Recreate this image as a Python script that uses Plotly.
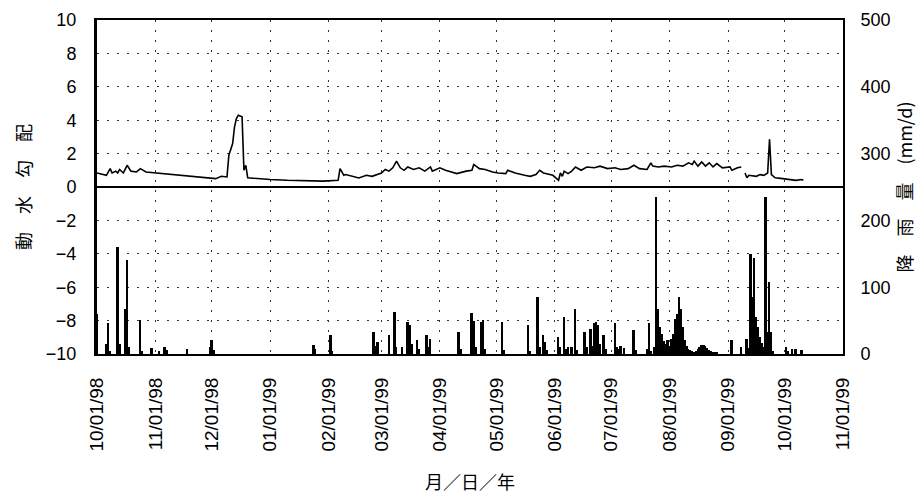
import plotly.graph_objects as go

# Hydraulic gradient (left axis)
grad_dates = [
    "1998-10-01", "1998-10-04", "1998-10-06", "1998-10-08", "1998-10-09", "1998-10-11",
    "1998-10-12", "1998-10-13", "1998-10-15", "1998-10-17", "1998-10-19", "1998-10-22",
    "1998-10-24", "1998-10-27", "1998-11-01", "1998-11-10", "1998-11-19", "1998-11-28",
    "1998-12-03", "1998-12-06", "1998-12-09", "1998-12-10", "1998-12-11", "1998-12-12",
    "1998-12-13", "1998-12-14", "1998-12-15", "1998-12-16", "1998-12-17", "1998-12-18",
    "1998-12-19", "1998-12-20", "1998-12-25", "1999-01-01", "1999-01-10", "1999-01-20",
    "1999-01-29", "1999-02-06", "1999-02-07", "1999-02-08", "1999-02-09", "1999-02-10",
    "1999-02-14", "1999-02-17", "1999-02-21", "1999-02-24", "1999-03-01", "1999-03-03",
    "1999-03-05", "1999-03-07", "1999-03-09", "1999-03-11", "1999-03-13", "1999-03-15",
    "1999-03-18", "1999-03-21", "1999-03-24", "1999-03-27", "1999-03-28", "1999-04-01",
    "1999-04-04", "1999-04-10", "1999-04-15", "1999-04-18", "1999-04-19", "1999-04-22",
    "1999-04-25", "1999-04-29", "1999-05-02", "1999-05-06", "1999-05-07", "1999-05-11",
    "1999-05-16", "1999-05-19", "1999-05-22", "1999-05-24", "1999-05-26", "1999-05-31",
    "1999-06-02", "1999-06-03", "1999-06-04", "1999-06-05", "1999-06-06", "1999-06-08",
    "1999-06-10", "1999-06-12", "1999-06-15", "1999-06-18", "1999-06-22", "1999-06-25",
    "1999-06-29", "1999-07-03", "1999-07-06", "1999-07-10", "1999-07-13", "1999-07-16",
    "1999-07-20", "1999-07-22", "1999-07-23", "1999-07-26", "1999-07-29", "1999-08-02",
    "1999-08-05", "1999-08-08", "1999-08-11", "1999-08-13", "1999-08-14", "1999-08-16",
    "1999-08-18", "1999-08-20", "1999-08-22", "1999-08-24", "1999-08-26", "1999-08-29",
    "1999-09-02", "1999-09-03", "1999-09-06", "1999-09-08", "1999-09-09", "1999-09-10",
    "1999-09-11", "1999-09-12", "1999-09-16", "1999-09-18", "1999-09-20", "1999-09-22",
    "1999-09-23", "1999-09-24", "1999-09-26", "1999-09-30", "1999-10-03", "1999-10-07",
    "1999-10-10", "1999-10-11",
]
grad_values = [
    0.84, 0.75, 0.70, 1.10, 0.84, 0.95,
    0.84, 1.05, 0.84, 1.30, 0.95, 0.90,
    1.10, 0.90, 0.84, 0.74, 0.64, 0.54,
    0.50, 0.64, 0.60, 1.90, 2.30, 2.60,
    3.60, 4.10, 4.30, 4.25, 4.20, 1.00,
    1.30, 0.55, 0.50, 0.45, 0.40, 0.38,
    0.35, 0.40, 1.10, 0.90, 0.70, 0.75,
    0.64, 0.54, 0.70, 0.64, 0.84, 1.05,
    0.95, 1.15, 1.55, 1.15, 1.00, 1.20,
    1.05, 1.15, 0.95, 1.20, 0.95, 1.15,
    1.00, 0.80, 0.95, 1.00, 1.35, 1.10,
    1.05, 0.90, 0.84, 0.80, 1.00, 0.84,
    0.70, 0.64, 0.74, 1.00, 0.84, 0.70,
    0.50, 0.40, 0.84, 0.64, 0.95, 0.80,
    0.95, 1.20, 1.00, 1.20, 1.15, 1.25,
    1.10, 1.15, 1.05, 1.10, 1.30, 1.10,
    1.05, 1.45, 1.25, 1.20, 1.25, 1.20,
    1.30, 1.25, 1.45, 1.35, 1.55, 1.25,
    1.50, 1.25, 1.45, 1.20, 1.40, 1.15,
    1.20, 1.00, 1.15, 1.20, None, 0.84,
    0.55, 0.70, 0.64, 0.74, 0.70, 0.84,
    2.86, 0.74, 0.55, 0.50, 0.45, 0.40,
    0.45, 0.40,
]

# Daily rainfall (right axis, mm/d)
rain_dates = [
    "1998-10-01", "1998-10-06", "1998-10-07", "1998-10-08", "1998-10-12", "1998-10-13",
    "1998-10-16", "1998-10-17", "1998-10-18", "1998-10-24", "1998-10-25", "1998-10-30",
    "1998-11-03", "1998-11-06", "1998-11-07", "1998-11-18", "1998-11-30", "1998-12-01",
    "1998-12-02", "1999-01-24", "1999-01-25", "1999-02-02", "1999-02-03", "1999-02-25",
    "1999-02-26", "1999-02-27", "1999-03-05", "1999-03-08", "1999-03-09", "1999-03-12",
    "1999-03-15", "1999-03-16", "1999-03-17", "1999-03-20", "1999-03-21", "1999-03-25",
    "1999-03-26", "1999-03-27", "1999-04-11", "1999-04-12", "1999-04-18", "1999-04-19",
    "1999-04-20", "1999-04-23", "1999-04-24", "1999-04-25", "1999-05-04", "1999-05-05",
    "1999-05-18", "1999-05-19", "1999-05-23", "1999-05-24", "1999-05-26", "1999-05-27",
    "1999-05-28", "1999-06-03", "1999-06-04", "1999-06-06", "1999-06-07", "1999-06-08",
    "1999-06-10", "1999-06-12", "1999-06-13", "1999-06-17", "1999-06-18", "1999-06-20",
    "1999-06-21", "1999-06-22", "1999-06-23", "1999-06-24", "1999-06-25", "1999-06-27",
    "1999-06-28", "1999-07-03", "1999-07-04", "1999-07-05", "1999-07-06", "1999-07-08",
    "1999-07-13", "1999-07-14", "1999-07-20", "1999-07-21", "1999-07-22", "1999-07-24",
    "1999-07-25", "1999-07-26", "1999-07-27", "1999-07-28", "1999-07-29", "1999-07-30",
    "1999-07-31", "1999-08-01", "1999-08-02", "1999-08-03", "1999-08-04", "1999-08-05",
    "1999-08-06", "1999-08-07", "1999-08-08", "1999-08-09", "1999-08-10", "1999-08-11",
    "1999-08-12", "1999-08-13", "1999-08-14", "1999-08-15", "1999-08-16", "1999-08-17",
    "1999-08-18", "1999-08-19", "1999-08-20", "1999-08-21", "1999-08-22", "1999-08-23",
    "1999-08-24", "1999-08-25", "1999-08-26", "1999-09-03", "1999-09-08", "1999-09-11",
    "1999-09-12", "1999-09-13", "1999-09-14", "1999-09-15", "1999-09-16", "1999-09-17",
    "1999-09-18", "1999-09-19", "1999-09-20", "1999-09-21", "1999-09-22", "1999-09-23",
    "1999-09-24", "1999-09-25", "1999-10-02", "1999-10-03", "1999-10-05", "1999-10-07",
    "1999-10-10",
]
rain_mm = [
    60, 15, 46, 5, 160, 15,
    67, 141, 10, 51, 5, 9,
    4, 11, 6, 8, 10, 21,
    6, 13, 8, 28, 5, 33,
    12, 18, 28, 63, 10, 11,
    48, 43, 15, 21, 8, 28,
    10, 23, 33, 8, 61, 50,
    10, 48, 51, 8, 48, 6,
    43, 5, 86, 10, 28, 18,
    6, 26, 10, 56, 8, 11,
    11, 68, 6, 33, 10, 38,
    12, 46, 48, 43, 15, 28,
    8, 46, 10, 8, 12, 9,
    36, 6, 8, 46, 5, 10,
    235, 68, 40, 30, 20, 15,
    21, 12, 23, 30, 53, 60,
    86, 68, 41, 21, 12, 8,
    6, 4, 3, 5, 8, 11,
    13, 13, 12, 9, 6, 4,
    3, 3, 2, 21, 10, 23,
    9, 150, 86, 143, 56, 41,
    26, 16, 10, 235, 33, 108,
    33, 5, 10, 5, 8, 8,
    6,
]

fig = go.Figure()
fig.add_trace(go.Scatter(
    x=grad_dates, y=grad_values, mode="lines",
    line=dict(color="black", width=1.6), connectgaps=False,
    showlegend=False, hoverinfo="skip",
))
fig.add_trace(go.Bar(
    x=rain_dates, y=rain_mm, yaxis="y2",
    marker=dict(color="black", line=dict(width=0)),
    width=86400000, showlegend=False, hoverinfo="skip",
))

grid_kw = dict(gridcolor="#333333", griddash="2px,8px", gridwidth=1)
tick_font = dict(family="Liberation Sans, Arial, sans-serif", size=18, color="black")
xtick_font = dict(family="Liberation Sans, Arial, sans-serif", size=19, color="black")
cjk_font = dict(family="Noto Sans CJK JP, Liberation Sans, sans-serif", size=18, color="black")

fig.update_layout(
    width=923, height=496,
    margin=dict(l=97, r=80, t=20, b=142),
    paper_bgcolor="white", plot_bgcolor="white",
    showlegend=False,
    xaxis=dict(
        type="date", range=["1998-10-01", "1999-11-01"],
        tick0="1998-10-01", dtick="M1", tickformat="%m/%d/%y",
        tickangle=-90, tickfont=xtick_font, ticks="",
        ticklabelstandoff=14, automargin=False,
        showgrid=True, **grid_kw,
        showline=True, linecolor="black", linewidth=2, mirror=True,
        zeroline=False,
        title=dict(text="月／日／年", font=cjk_font, standoff=26),
    ),
    yaxis=dict(
        range=[-10, 10], tick0=-10, dtick=2, tickfont=tick_font, ticks="",
        ticklabelstandoff=14, automargin=False,
        showgrid=True, **grid_kw,
        zeroline=True, zerolinecolor="black", zerolinewidth=2,
        showline=True, linecolor="black", linewidth=3, mirror=False,
        title=dict(text="動　水　勾　配", font=cjk_font, standoff=10),
    ),
    yaxis2=dict(
        overlaying="y", side="right", anchor="x",
        range=[0, 500], tick0=0, dtick=100, tickfont=tick_font, ticks="",
        ticklabelstandoff=12, automargin=False,
        showgrid=False, zeroline=False,
        showline=True, linecolor="black", linewidth=2,
        title=dict(text="降　雨　量　(mm/d)", font=cjk_font, standoff=8),
    ),
    bargap=0,
)

fig.write_html("out.html")
